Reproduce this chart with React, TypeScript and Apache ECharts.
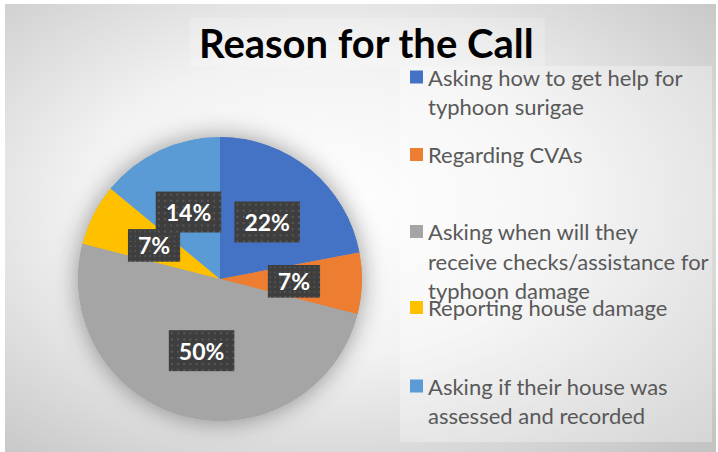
import { useEffect, useRef } from "react";
import * as echarts from "echarts";

const titleText = "Reason for the Call";
const categories = [
  "Asking how to get help for\ntyphoon surigae",
  "Regarding CVAs",
  "Asking when will they\nreceive checks/assistance for\ntyphoon damage",
  "Reporting house damage",
  "Asking if their house was\nassessed and recorded",
];
const shares = [22, 7, 50, 7, 14];
const colors = ["#4472C4", "#ED7D31", "#A5A5A5", "#FFC000", "#5B9BD5"];

function makeDots(): string {
  const c = document.createElement("canvas");
  c.width = 64;
  c.height = 40;
  const ctx = c.getContext("2d");
  if (!ctx) return "";
  ctx.fillStyle = "#3e3e3e";
  ctx.fillRect(0, 0, 64, 40);
  ctx.fillStyle = "#565656";
  for (let y = 2; y < 40; y += 6) {
    for (let x = 2; x < 64; x += 6) ctx.fillRect(x, y, 2, 2);
  }
  return c.toDataURL();
}

export default function App() {
  const ref = useRef<HTMLDivElement>(null);
  useEffect(() => {
    if (!ref.current) return;
    const chart = echarts.init(ref.current, undefined, { renderer: "svg" });
    const dots = makeDots();
    const L = 29.5;
    const legendCenters = [77, 154.5, 231.5, 307.5, 386];
    const legends = categories.map((name, i) => {
      const n = name.split("\n").length;
      const h = (2 * n - 1) * L;
      return {
        orient: "vertical",
        left: 410,
        top: legendCenters[i] - h / 2,
        padding: 0,
        itemWidth: 13,
        itemHeight: 13,
        icon: "rect",
        selectedMode: false,
        data: [name],
        formatter: (nm: string) => "\n".repeat(n - 1) + nm,
        textStyle: {
          color: "#595959",
          fontFamily: "Lato",
          fontSize: 22,
          lineHeight: L,
          backgroundColor: "rgba(0,0,0,0)",
        },
      };
    });
    const pieData = categories.map((name, i) => ({
      name,
      value: shares[i],
      itemStyle: { color: colors[i] },
    }));
    chart.setOption({
      animation: false,
      graphic: [
        {
          type: "rect",
          z: -10,
          shape: { x: 5, y: 4, width: 711, height: 448 },
          style: {
            fill: new echarts.graphic.RadialGradient(0.45, 0.45, 0.75, [
              { offset: 0, color: "#ffffff" },
              { offset: 0.45, color: "#f2f2f2" },
              { offset: 1, color: "#c4c4c4" },
            ]),
          },
          silent: true,
        },
        {
          type: "rect",
          z: -9,
          shape: { x: 190, y: 18, width: 355, height: 48 },
          style: { fill: "rgba(255,255,255,0.2)" },
          silent: true,
        },
        {
          type: "rect",
          z: -9,
          shape: { x: 400, y: 66, width: 312, height: 376 },
          style: { fill: "rgba(255,255,255,0.3)" },
          silent: true,
        },
      ],
      title: {
        text: titleText,
        left: 199,
        top: 23,
        padding: 0,
        textStyle: {
          fontFamily: "Lato",
          fontWeight: "bold",
          fontSize: 40,
          color: "#000000",
        },
      },
      legend: legends,
      series: [
        {
          type: "pie",
          z: 3,
          center: [220, 279],
          radius: 142,
          startAngle: 90,
          clockwise: true,
          percentPrecision: 0,
          avoidLabelOverlap: false,
          labelLayout: { hideOverlap: false },
          data: pieData,
          labelLine: { show: false },
          label: {
            show: true,
            position: "inside",
            formatter: "{d}%",
            color: "#ffffff",
            fontFamily: "Lato",
            fontWeight: "bold",
            fontSize: 23,
            lineHeight: 24,
            backgroundColor: dots ? { image: dots } : "#3e3e3e",
            padding: [9, 10],
            shadowBlur: 6,
            shadowColor: "rgba(0,0,0,0.55)",
            shadowOffsetX: 3,
            shadowOffsetY: 3,
          },
          emphasis: { disabled: true },
        },
        {
          type: "pie",
          z: 1,
          silent: true,
          center: [220, 279],
          radius: 142,
          startAngle: 90,
          data: categories.map((name, i) => ({ name, value: shares[i] })),
          itemStyle: {
            color: "#a5a5a5",
            shadowBlur: 24,
            shadowColor: "rgba(0,0,0,0.4)",
          },
          label: { show: false },
          labelLine: { show: false },
          emphasis: { disabled: true },
        },
      ],
    });
    return () => chart.dispose();
  }, []);
  return (
    <div
      ref={ref}
      style={{ position: "absolute", left: 0, top: 0, width: 718, height: 452 }}
    />
  );
}
